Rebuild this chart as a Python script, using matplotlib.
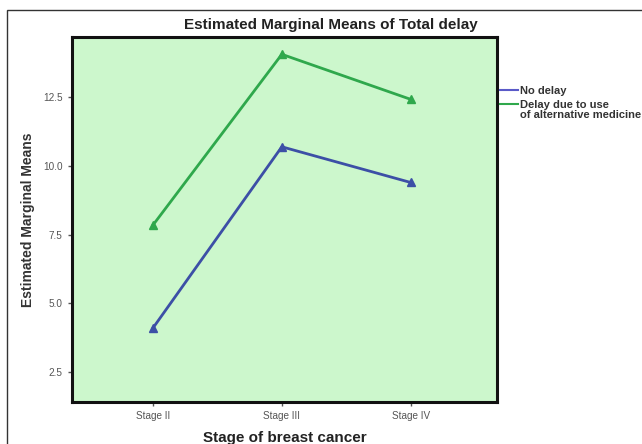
import matplotlib
matplotlib.use("Agg")
import matplotlib.pyplot as plt
from matplotlib.patches import Rectangle
from matplotlib.lines import Line2D

plt.rcParams["font.family"] = ["Liberation Sans", "DejaVu Sans"]

stages = ["Stage II", "Stage III", "Stage IV"]
no_delay = [4.1, 10.7, 9.4]
alt_medicine = [7.85, 14.07, 12.43]
y_ticks = [2.5, 5.0, 7.5, 10.0, 12.5]
legend_labels = ["No delay", "Delay due to use\nof alternative medicine"]

blue = "#3c4fa6"
green = "#2fa84c"
W, H = 642, 444

fig = plt.figure(figsize=(6.42, 4.44), dpi=100)
ax = fig.add_axes([0.112, 0.0946, 0.662, 0.822])

# outer frame of the exported chart
fig.patches.append(Rectangle((0.011, -0.1), 1.1, 1.077, transform=fig.transFigure,
                             fill=False, edgecolor="#333333", linewidth=1.0))

ax.set_facecolor("#ccf7cc")
x = range(len(stages))
ax.plot(x, no_delay, color=blue, lw=2, marker="^", ms=6)
ax.plot(x, alt_medicine, color=green, lw=2, marker="^", ms=6)

ax.set_xlim(-0.63, 2.67)
ax.set_ylim(1.4, 14.7)
ax.set_xticks(list(x))
ax.set_xticklabels(stages)
ax.set_yticks(y_ticks)
ax.set_yticklabels([f"{v:.1f}" for v in y_ticks])
ax.tick_params(labelsize=7.2, colors="#555555", length=3, width=1)

for s in ax.spines.values():
    s.set_linewidth(2.2)
    s.set_color("#111111")

fig.text(331 / W, 1 - 25 / H, "Estimated Marginal Means of Total delay",
         fontsize=11, fontweight="bold", color="#222222", ha="center", va="center")
ax.set_xlabel("Stage of breast cancer", fontsize=11, fontweight="bold",
              labelpad=7, color="#222222")
ax.set_ylabel("Estimated Marginal Means", fontsize=10, fontweight="bold",
              labelpad=6, color="#333333")

# legend drawn by hand: green line sits on the first row of its two-line label
leg_colors = ["#5a5ac8", green]
leg_y = [90, 104]
for c, yy, lab in zip(leg_colors, leg_y, legend_labels):
    fig.add_artist(Line2D([500 / W, 518 / W], [1 - yy / H] * 2, color=c, lw=1.5,
                          transform=fig.transFigure))
    fig.text(520 / W, 1 - (yy - 4.5) / H, lab, fontsize=8, fontweight="bold",
             color="#333333", ha="left", va="top", linespacing=1.0)

fig.savefig("out.png", dpi=100)
